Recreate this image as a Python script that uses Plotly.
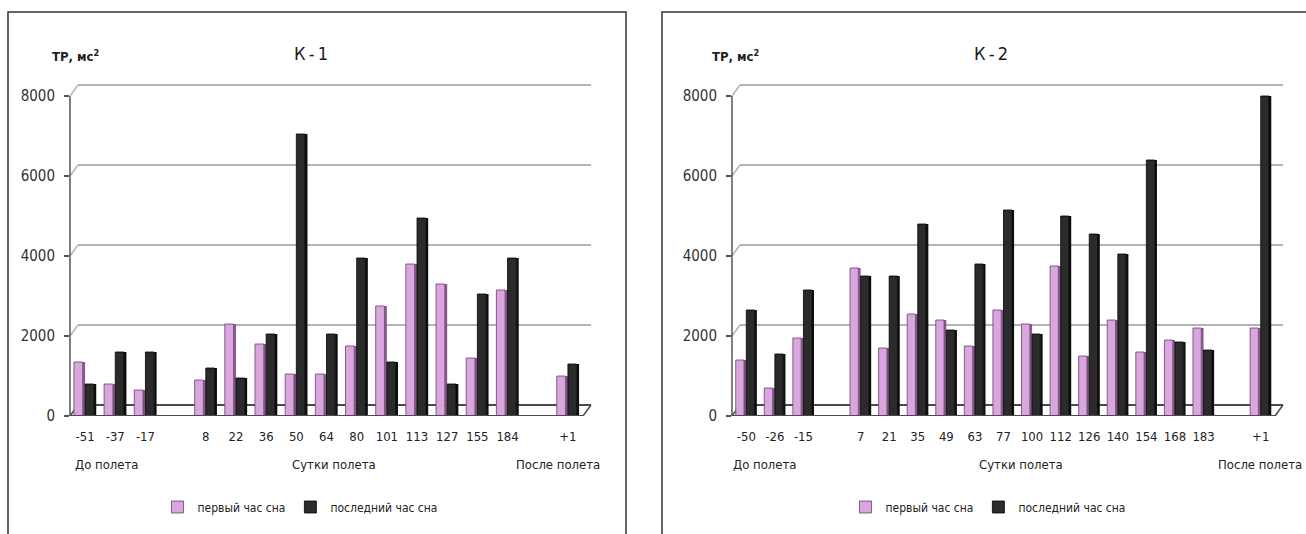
import plotly.graph_objects as go

# ---- data -----------------------------------------------------------------
k1_days = ["-51", "-37", "-17", "8", "22", "36", "50", "64", "80", "101",
           "113", "127", "155", "184", "+1"]
k1_first = [1350, 800, 650, 900, 2300, 1800, 1050, 1050, 1750, 2750,
            3800, 3300, 1450, 3150, 1000]
k1_last = [800, 1600, 1600, 1200, 950, 2050, 7050, 2050, 3950, 1350,
           4950, 800, 3050, 3950, 1300]

k2_days = ["-50", "-26", "-15", "7", "21", "35", "49", "63", "77", "100",
           "112", "126", "140", "154", "168", "183", "+1"]
k2_first = [1400, 700, 1950, 3700, 1700, 2550, 2400, 1750, 2650, 2300,
            3750, 1500, 2400, 1600, 1900, 2200, 2200]
k2_last = [2650, 1550, 3150, 3500, 3500, 4800, 2150, 3800, 5150, 2050,
           5000, 4550, 4050, 6400, 1850, 1650, 8000]

y_ticks = [0, 2000, 4000, 6000, 8000]
series_names = ["первый час сна", "последний час сна"]
phase_labels = ["До полета", "Сутки полета", "После полета"]

# ---- page geometry (pixels) ---------------------------------------------
W, H = 1306, 534
FONT = "DejaVu Sans Condensed, DejaVu Sans, sans-serif"
PINK, PINK_SIDE = "#d9a6dd", "#8c5690"
DARK, DARK_SIDE = "#2b2b2b", "#0e0e0e"
GRID = "#b4b4b4"
FLOOR = "#4a4a4a"

Y_BOTTOM_PX, Y_TOP_PX = 416, 80
Y_MAX = 8400
DEPTH_X = 8            # depth offset of back wall, px
DEPTH_Y_UNITS = 275    # depth offset of back wall, data units (~11 px)


def px(x):
    return x / W


def py(y):
    return 1 - y / H


def slots(n, gap_after):
    """Column slot of each day: one empty slot after each flight phase."""
    return [j + sum(j > g for g in gap_after) for j in range(n)]


fig = go.Figure()

panels = [
    dict(days=k1_days, first=k1_first, last=k1_last, gap_after=[2, 13],
         xa="x", ya="y", dom=(70, 583), title="К\u2009-\u20091", title_x=311,
         unit_x=75, legend="legend", leg_x=300,
         phases=[(73, "left"), (334, "center"), (558, "center")]),
    dict(days=k2_days, first=k2_first, last=k2_last, gap_after=[2, 15],
         xa="x2", ya="y2", dom=(732, 1275), title="К\u2009-\u20092", title_x=991,
         unit_x=735, legend="legend2", leg_x=988,
         phases=[(731, "left"), (1021, "center"), (1260, "center")]),
]

shapes, annotations = [], []

for i, p in enumerate(panels):
    xs = slots(len(p["days"]), p["gap_after"])
    n_slots = xs[-1] + 1

    common = dict(x=xs, xaxis=p["xa"], yaxis=p["ya"],
                  legend=p["legend"], hoverinfo="skip")
    # side faces of the columns
    fig.add_trace(go.Bar(y=p["first"], offset=-0.08, width=0.08,
                         marker=dict(color=PINK_SIDE, line=dict(width=0)),
                         showlegend=False, **common))
    fig.add_trace(go.Bar(y=p["last"], offset=0.29, width=0.08,
                         marker=dict(color=DARK_SIDE, line=dict(width=0)),
                         showlegend=False, **common))
    # front faces of the columns
    fig.add_trace(go.Bar(y=p["first"], offset=-0.37, width=0.29,
                         name=series_names[0],
                         marker=dict(color=PINK, line=dict(color="#6a3f6e", width=0.8)),
                         **common))
    fig.add_trace(go.Bar(y=p["last"], offset=0.0, width=0.29,
                         name=series_names[1],
                         marker=dict(color=DARK, line=dict(color="#000000", width=0.8)),
                         **common))

    x0, x1 = p["dom"]
    sfx = "" if i == 0 else "2"
    fig.update_layout(**{
        "xaxis" + sfx: dict(domain=[px(x0), px(x1)], anchor="y" + sfx,
                            range=[-0.5, n_slots - 0.5],
                            tickmode="array", tickvals=xs, ticktext=p["days"],
                            showgrid=False, zeroline=False, showline=False,
                            ticks="outside", ticklen=8,
                            tickcolor="rgba(0,0,0,0)", automargin=False,
                            tickfont=dict(family=FONT, size=13, color="#222"),
                            fixedrange=True),
        "yaxis" + sfx: dict(domain=[py(Y_BOTTOM_PX), py(Y_TOP_PX)],
                            anchor="x" + sfx, range=[0, Y_MAX],
                            tickmode="array", tickvals=y_ticks,
                            showgrid=False, zeroline=False,
                            showline=False, ticks="outside", ticklen=5,
                            tickcolor="#555", tickwidth=1.5,
                            ticklabelstandoff=6, automargin=False,
                            tickfont=dict(family=FONT, size=15, color="#333"),
                            fixedrange=True),
    })

    yref = p["ya"]
    ax = px(x0)
    right = px(x1)
    dx = DEPTH_X / W
    # back wall gridlines and their links to the front axis
    for v in y_ticks:
        yb = v + DEPTH_Y_UNITS
        color = FLOOR if v == 0 else GRID
        shapes.append(dict(type="line", xref="paper", yref=yref, layer="below",
                           x0=ax + dx, x1=right + dx, y0=yb, y1=yb,
                           line=dict(color=color, width=2)))
        shapes.append(dict(type="line", xref="paper", yref=yref, layer="below",
                           x0=ax, x1=ax + dx, y0=v, y1=yb,
                           line=dict(color=GRID if v else FLOOR, width=1.5)))
    # front floor edge and right-hand corner
    shapes.append(dict(type="line", xref="paper", yref=yref, layer="above",
                       x0=ax, x1=right, y0=0, y1=0,
                       line=dict(color=FLOOR, width=2)))
    shapes.append(dict(type="line", xref="paper", yref=yref, layer="above",
                       x0=right, x1=right + dx, y0=0, y1=DEPTH_Y_UNITS,
                       line=dict(color=FLOOR, width=1.5)))
    # front value axis
    shapes.append(dict(type="line", xref="paper", yref=yref, layer="above",
                       x0=ax, x1=ax, y0=0, y1=8000,
                       line=dict(color="#555", width=1.5)))

    # titles and captions
    annotations.append(dict(text=p["title"], x=px(p["title_x"]), y=py(53),
                            xref="paper", yref="paper", showarrow=False,
                            xanchor="center", yanchor="middle",
                            font=dict(family=FONT, size=18, color="#1a1a1a")))
    annotations.append(dict(text="<b>ТР, мс<sup>2</sup></b>", x=px(p["unit_x"]),
                            y=py(56), xref="paper", yref="paper",
                            showarrow=False, xanchor="center", yanchor="middle",
                            font=dict(family=FONT, size=13, color="#222")))
    for (lx, anc), lab in zip(p["phases"], phase_labels):
        annotations.append(dict(text=lab, x=px(lx), y=py(464), xref="paper",
                                yref="paper", showarrow=False, xanchor=anc,
                                yanchor="middle",
                                font=dict(family=FONT, size=13, color="#222")))

# panel frames
shapes.append(dict(type="rect", xref="paper", yref="paper",
                   x0=px(8), x1=px(626), y0=-0.1, y1=py(12),
                   line=dict(color="#333", width=1.5), layer="below"))
shapes.append(dict(type="rect", xref="paper", yref="paper",
                   x0=px(662), x1=1.1, y0=-0.1, y1=py(12),
                   line=dict(color="#333", width=1.5), layer="below"))

legend_style = dict(orientation="h", xref="paper", yref="paper",
                    xanchor="center", yanchor="middle", y=py(507),
                    font=dict(family=FONT, size=12, color="#222"),
                    bgcolor="rgba(0,0,0,0)", itemwidth=30,
                    tracegroupgap=0, traceorder="normal")

fig.update_layout(
    template="none",
    width=W, height=H, margin=dict(l=0, r=0, t=0, b=0, autoexpand=False),
    paper_bgcolor="white", plot_bgcolor="rgba(0,0,0,0)",
    barmode="overlay", showlegend=True, hovermode=False,
    legend=dict(x=px(panels[0]["leg_x"]), **legend_style),
    legend2=dict(x=px(panels[1]["leg_x"]), **legend_style),
    shapes=shapes, annotations=annotations,
)

fig.write_html("out.html")
